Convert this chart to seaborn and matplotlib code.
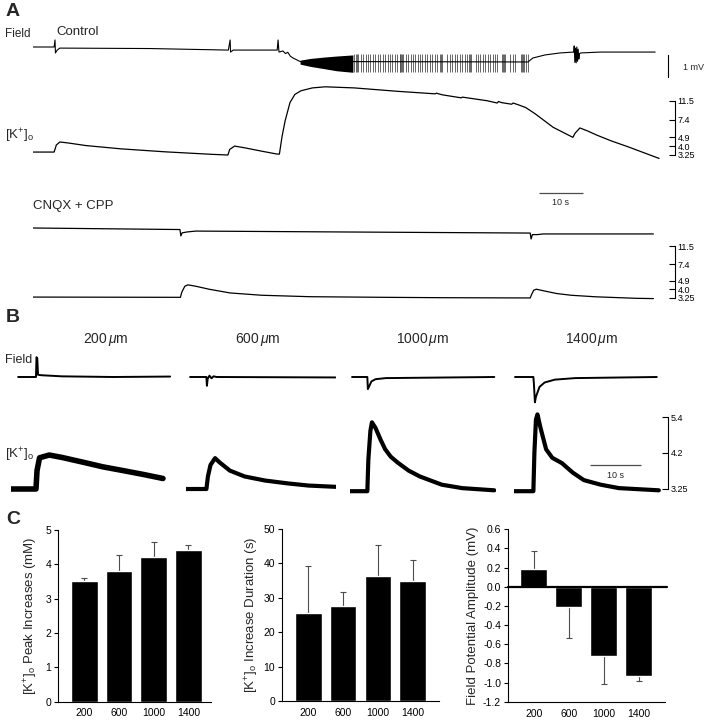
import matplotlib
matplotlib.use('Agg')
import matplotlib.pyplot as plt
from matplotlib.ticker import NullLocator
import seaborn as sns

# ---------------- data ----------------
# Panel A, control: field potential (mV) and [K+]o (mM) vs time (s)
ctrl_field_t = [0, 4.8, 5.0, 5.1, 5.5, 6.1, 26.6, 44.4, 44.8, 44.9, 45.5, 55.5, 55.7, 55.9,
                56.8, 57.4, 57.9, 58.5, 59.1, 60.7, 112.5, 113.6, 116.4, 119.8, 122.9, 123.0,
                123.15, 123.3, 123.45, 123.6, 123.75, 123.9, 124.05, 124.2, 124.5, 128.9, 141.4]
ctrl_field_mv = [0, 0, 0.32, -0.27, -0.14, -0.05, -0.07, -0.14, 0.32, -0.23, -0.14, -0.14, 0.32, -0.23,
                 -0.18, -0.3, -0.24, -0.42, -0.5, -0.66, -0.68, -0.5, -0.36, -0.27, -0.23, 0.05,
                 -0.7, -0.05, -0.72, 0.0, -0.65, -0.1, -0.55, -0.3, -0.27, -0.23, -0.23]
burst_t = [60.7, 63.0, 66.0, 69.0, 72.7]
burst_hi = [-0.6, -0.52, -0.46, -0.41, -0.36]
burst_lo = [-0.78, -0.88, -0.98, -1.08, -1.15]
spike_times = [73.0, 73.3, 73.6, 73.9, 74.5, 75.1, 75.6, 76.2, 76.7, 77.3, 77.8, 78.4, 78.9, 79.5,
               80.0, 80.6, 81.1, 81.7, 82.2, 82.8, 83.3, 83.5, 83.7, 83.9, 84.1, 84.7, 85.2, 85.8,
               86.3, 86.9, 87.4, 88.0, 88.5, 89.1, 89.6, 90.2, 90.7, 91.3, 91.8, 92.4, 92.8, 93.0,
               94.2, 94.8, 95.3, 95.9, 96.4, 97.0, 97.5, 98.1, 98.6, 99.2, 99.4, 99.6, 100.6, 101.2,
               101.7, 102.3, 102.8, 103.4, 103.9, 104.5, 105.0, 105.5, 106.7, 106.9, 107.1, 107.3,
               108.5, 109.0, 109.5, 110.8, 111.1, 111.3, 111.5, 112.1, 112.5]
spike_hi = -0.3
spike_lo = -1.15

ctrl_k_t = [0, 4.8, 5.3, 6.1, 8, 12, 20, 30, 40.7, 44.3, 44.7, 45.8, 48, 52, 55.5, 56.0, 56.6,
            57.3, 58.4, 59.5, 60.9, 63.5, 66.4, 73, 83, 91.4, 91.7, 93, 97.3, 97.6, 103.2, 105.5,
            105.8, 106.5, 108.8, 109.1, 110.2, 112.0, 114.1, 118.2, 122.7, 123.2, 124.3, 126.0,
            128.2, 131.5, 135.2, 142.3]
ctrl_k_mm = [3.48, 3.48, 4.1, 4.4, 4.3, 4.05, 3.75, 3.5, 3.3, 3.25, 3.7, 4.0, 3.85, 3.55, 3.32,
             3.32, 5.0, 7.2, 11.0, 13.3, 14.5, 15.5, 15.9, 15.5, 14.3, 13.5, 13.7, 13.2, 12.3, 12.5,
             11.5, 10.9, 11.3, 11.0, 10.6, 10.9, 10.5, 9.8, 8.5, 6.2, 4.9, 5.4, 6.1, 5.7, 5.15,
             4.5, 3.94, 3.0]

# Panel A, CNQX + CPP
cnqx_field_t = [0, 33.4, 33.6, 33.9, 35.0, 37.0, 70, 113.0, 113.2, 113.5, 114.6, 116.0, 141.0]
cnqx_field_mv = [0, -0.07, -0.36, -0.22, -0.18, -0.14, -0.18, -0.23, -0.5, -0.3, -0.3, -0.27, -0.27]
cnqx_k_t = [0, 33.5, 33.8, 34.5, 35.2, 37, 40, 44.8, 52, 63, 80, 93, 113, 113.3, 113.8, 114.4,
            116, 119, 122.3, 128, 137.3, 141]
cnqx_k_mm = [3.3, 3.28, 3.7, 4.3, 4.45, 4.3, 4.0, 3.65, 3.45, 3.33, 3.28, 3.25, 3.23, 3.5, 3.9,
             4.0, 3.85, 3.6, 3.45, 3.32, 3.2, 3.18]

k_ticks_a = [3.25, 4.0, 4.9, 7.4, 11.5]
k_labels_a = ['3.25', '4.0', '4.9', '7.4', '11.5']

# Panel B, responses at four distances
distances = ['200', '600', '1000', '1400']
field200_t = [1.4, 4.9, 5.0, 5.15, 5.3, 6.0, 10, 20, 31.2]
field200_mv = [0, 0, 0.9, 0.85, 0.1, 0.08, 0.03, 0.0, 0.02]
field600_t = [0.8, 4.0, 4.1, 4.25, 4.6, 5.0, 5.4, 6.0, 29.3]
field600_mv = [0, 0, -0.4, -0.08, 0.06, -0.06, 0.03, 0, -0.02]
field1000_t = [0.4, 3.4, 3.5, 3.7, 4.2, 5.0, 7.0, 28.3]
field1000_mv = [0, 0, -0.55, -0.45, -0.2, -0.1, -0.05, 0]
field1400_t = [0.2, 3.8, 3.9, 4.1, 4.3, 5.0, 6.0, 8.0, 12.0, 28.0]
field1400_mv = [0, 0, -0.3, -1.15, -0.9, -0.45, -0.25, -0.12, -0.05, 0]

k200_t = [0, 4.9, 5.1, 5.6, 7.5, 10, 14, 18, 22, 26, 29.8]
k200_mm = [3.25, 3.25, 3.7, 4.05, 4.13, 4.06, 3.93, 3.8, 3.7, 3.6, 3.5]
k600_t = [0, 4.0, 4.3, 4.8, 5.7, 6.6, 8.6, 11.5, 15.5, 20, 24, 29.4]
k600_mm = [3.25, 3.25, 3.55, 3.85, 4.04, 3.92, 3.7, 3.55, 3.45, 3.38, 3.33, 3.3]
k1000_t = [0, 3.4, 3.6, 4.0, 4.3, 5.0, 6.0, 6.9, 8.0, 9.4, 11.5, 13.7, 18, 22, 28.3]
k1000_mm = [3.2, 3.2, 4.0, 4.9, 5.2, 5.0, 4.6, 4.3, 4.08, 3.91, 3.7, 3.55, 3.35, 3.27, 3.22]
k1400_t = [0, 3.8, 4.0, 4.3, 4.6, 5.2, 6.3, 7.5, 9.4, 11.5, 13.7, 17, 20.6, 28.4]
k1400_mm = [3.2, 3.2, 4.2, 5.3, 5.5, 5.0, 4.3, 4.05, 3.9, 3.65, 3.46, 3.35, 3.27, 3.22]
k_ticks_b = [3.25, 4.2, 5.4]
k_labels_b = ['3.25', '4.2', '5.4']

# Panel C, means and SEM (one-sided error bars)
peak_mean = [3.5, 3.8, 4.2, 4.41]
peak_err = [0.11, 0.46, 0.46, 0.15]
dur_mean = [25.7, 27.5, 36.2, 34.9]
dur_err = [13.4, 4.2, 9.2, 6.1]
fp_mean = [0.19, -0.21, -0.72, -0.93]
fp_err = [0.18, 0.33, 0.30, 0.05]

# ---------------- style ----------------
sns.set_theme(style='white')
plt.rcParams['font.family'] = ['Liberation Sans', 'DejaVu Sans']
plt.rcParams['mathtext.fontset'] = 'custom'
plt.rcParams['mathtext.rm'] = 'Liberation Sans'
plt.rcParams['mathtext.it'] = 'Liberation Sans:italic'
plt.rcParams['mathtext.bf'] = 'Liberation Sans:bold'

W, H = 705, 720
fig = plt.figure(figsize=(W / 100, H / 100), dpi=100)
KO = r'[K$^{+}$]$_{\mathrm{o}}$'


def px_text(x, y, s, **kw):
    fig.text(x / W, 1 - y / H, s, **kw)


def trace_axes(box, px_per_s, y_ref, v_ref, per_unit, log=False):
    # box in pixels (x0, y0, x1, y1); y_ref = pixel row where value v_ref sits
    x0, y0, x1, y1 = box
    ax = fig.add_axes([x0 / W, 1 - y1 / H, (x1 - x0) / W, (y1 - y0) / H])
    ax.set_xlim(0, (x1 - x0) / px_per_s)
    if log:
        ax.set_yscale('log')
        ax.set_ylim(v_ref * 10 ** (-(y1 - y_ref) / per_unit), v_ref * 10 ** ((y_ref - y0) / per_unit))
    else:
        ax.set_ylim(v_ref - (y1 - y_ref) / per_unit, v_ref + (y_ref - y0) / per_unit)
    ax.patch.set_visible(False)
    for s in ax.spines.values():
        s.set_visible(False)
    ax.set_xticks([])
    ax.set_yticks([])
    ax.yaxis.set_minor_locator(NullLocator())
    return ax


def trace(ax, t, v, lw=0.8):
    sns.lineplot(x=t, y=v, ax=ax, color='black', lw=lw, sort=False, estimator=None)
    ax.set_xlabel('')
    ax.set_ylabel('')


def k_scale(ax, ticks, labels):
    ax.spines['right'].set_visible(True)
    ax.spines['right'].set_color('black')
    ax.spines['right'].set_linewidth(0.8)
    ax.spines['right'].set_bounds(min(ticks), max(ticks))
    ax.yaxis.tick_right()
    ax.set_yticks(ticks)
    ax.set_yticklabels(labels, fontsize=6.5)
    ax.yaxis.set_minor_locator(NullLocator())
    ax.tick_params(axis='y', direction='in', length=4, width=0.8, pad=2, right=True, left=False,
                   colors='black')


# ---------------- Panel A ----------------
PX_A = 4.4
ax = trace_axes((33, 28, 668, 90), PX_A, 47, 0.0, 22)
ax.fill_between(burst_t, burst_lo, burst_hi, color='black', lw=0)
ax.vlines(spike_times, spike_lo, spike_hi, color='0.3', lw=0.6)
trace(ax, ctrl_field_t, ctrl_field_mv, lw=0.8)
ax.spines['right'].set_visible(True)
ax.spines['right'].set_color('black')
ax.spines['right'].set_linewidth(0.8)
ax.spines['right'].set_bounds(-1.36, -0.36)

ax = trace_axes((33, 80, 675, 165), PX_A, 155, 3.25, 98.9, log=True)
trace(ax, ctrl_k_t, ctrl_k_mm, lw=0.9)
k_scale(ax, k_ticks_a, k_labels_a)

ax = trace_axes((33, 185, 668, 250), PX_A, 228, 0.0, 22)
trace(ax, cnqx_field_t, cnqx_field_mv, lw=0.9)
ax.hlines(1.59, 115, 125, color='0.3', lw=0.9, clip_on=False)
ax.text(120, 1.14, '10 s', fontsize=6.5, ha='center', va='center')

ax = trace_axes((33, 238, 675, 305), PX_A, 297.7, 3.25, 94.2, log=True)
trace(ax, cnqx_k_t, cnqx_k_mm, lw=0.9)
k_scale(ax, k_ticks_a, k_labels_a)

px_text(6, 3, 'A', fontsize=14, fontweight='bold', va='top')
px_text(5, 34, 'Field', fontsize=8.5, va='center')
px_text(56, 32, 'Control', fontsize=9.5, va='center')
px_text(683, 67, '1 mV', fontsize=6.5, va='center')
px_text(5, 136, KO, fontsize=9.5, va='center')
px_text(33, 206, 'CNQX + CPP', fontsize=9.5, va='center')

# ---------------- Panel B ----------------
PX_B = 5.1
cols_k = [(11, 400, 173, 500), (186, 400, 336, 500), (350, 400, 496, 500), (514, 400, 668, 500)]
cols_f = [(11, 345, 173, 410), (186, 345, 336, 410), (350, 345, 496, 410), (514, 345, 660, 410)]
fields = [(field200_t, field200_mv), (field600_t, field600_mv),
          (field1000_t, field1000_mv), (field1400_t, field1400_mv)]
ks = [(k200_t, k200_mm, 4.0), (k600_t, k600_mm, 3.0), (k1000_t, k1000_mm, 3.0), (k1400_t, k1400_mm, 3.0)]
title_x = [106, 258, 423, 592]
for i in range(4):
    axf = trace_axes(cols_f[i], PX_B, 377, 0.0, 22)
    trace(axf, fields[i][0], fields[i][1], lw=1.4)
    axk = trace_axes(cols_k[i], PX_B, 489, 3.25, 326.5, log=True)
    trace(axk, ks[i][0], ks[i][1], lw=ks[i][2])
    px_text(title_x[i], 340, distances[i] + r'$\,\mu$m', fontsize=10, ha='center', va='center')
k_scale(axk, k_ticks_b, k_labels_b)
axk.hlines(3.86, 14.9, 24.9, color='0.3', lw=0.9)
axk.text(19.9, 3.58, '10 s', fontsize=6.5, ha='center', va='center')

px_text(6, 309, 'B', fontsize=14, fontweight='bold', va='top')
px_text(5, 360, 'Field', fontsize=9, va='center')
px_text(5, 455, KO, fontsize=9.5, va='center')


# ---------------- Panel C ----------------
def bar_panel(box, xlim, means, errs, ylim, yticks, ylabel, fmt, labelpad):
    x0, y0, x1, y1 = box
    ax = fig.add_axes([x0 / W, 1 - y1 / H, (x1 - x0) / W, (y1 - y0) / H])
    sns.barplot(x=distances, y=means, order=distances, color='black', saturation=1,
                width=0.77, ax=ax, errorbar=None)
    lower = [e if m < 0 else 0 for m, e in zip(means, errs)]
    upper = [e if m >= 0 else 0 for m, e in zip(means, errs)]
    ax.errorbar(range(len(means)), means, yerr=[lower, upper], fmt='none', ecolor='0.3',
                elinewidth=0.8, capsize=2.5, capthick=0.8, zorder=0)
    ax.set_xlim(*xlim)
    ax.set_ylim(*ylim)
    ax.set_yticks(yticks)
    ax.set_yticklabels([fmt.format(v) for v in yticks])
    for s in ['top', 'right']:
        ax.spines[s].set_visible(False)
    for s in ['left', 'bottom']:
        ax.spines[s].set_color('black')
        ax.spines[s].set_linewidth(0.8)
    ax.tick_params(axis='y', length=3, width=0.8, labelsize=7.5, pad=2, left=True, colors='black')
    ax.tick_params(axis='x', length=0, labelsize=7.5, pad=5, colors='black')
    ax.set_xlabel('')
    ax.set_ylabel(ylabel, fontsize=9.5, labelpad=labelpad)
    ax.patch.set_visible(False)
    return ax


bar_panel((58, 530, 211, 701.5), (-0.76, 3.65), peak_mean, peak_err, (0, 5), range(0, 6),
          KO + ' Peak Increases (mM)', '{:d}', 4)
bar_panel((282, 529, 439, 701), (-0.75, 3.75), dur_mean, dur_err, (0, 50), range(0, 51, 10),
          KO + ' Increase Duration (s)', '{:d}', 2)
ax3 = bar_panel((508, 529.3, 665, 701.7), (-0.74, 3.75), fp_mean, fp_err, (-1.2, 0.6),
                [-1.2, -1.0, -0.8, -0.6, -0.4, -0.2, 0.0, 0.2, 0.4, 0.6],
                'Field Potential Amplitude (mV)', '{:.1f}', 3)
ax3.axhline(0, color='black', lw=1.6, xmax=1.01, clip_on=False)

px_text(6, 511, 'C', fontsize=14, fontweight='bold', va='top')

fig.savefig('out.png', dpi=100)
